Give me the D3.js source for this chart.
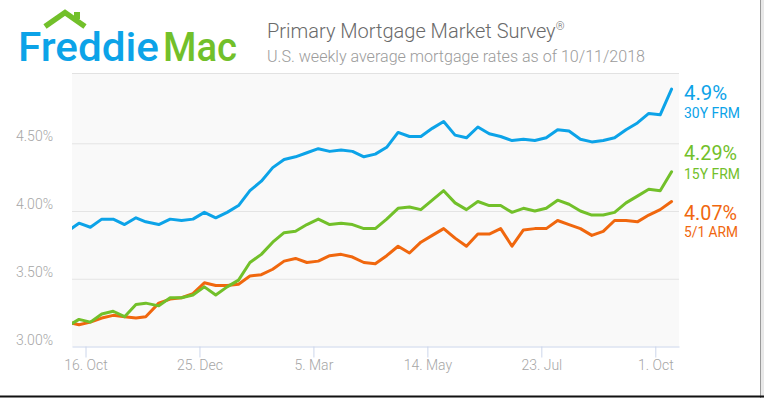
<!DOCTYPE html>
<html>
<head>
<meta charset="utf-8">
<script src="https://cdn.jsdelivr.net/npm/d3@7"></script>
<style>
  html, body { margin: 0; padding: 0; background: #fff; }
  svg { display: block; }
  text { font-family: Roboto, "Noto Sans", sans-serif; }
</style>
</head>
<body>
<svg id="chart" width="764" height="398"></svg>
<script>
// ---- data (Freddie Mac PMMS, weekly) ----
const weekDates = [
  "2017-10-05","2017-10-12","2017-10-19","2017-10-26",
  "2017-11-02","2017-11-09","2017-11-16","2017-11-22","2017-11-30",
  "2017-12-07","2017-12-14","2017-12-21","2017-12-28",
  "2018-01-04","2018-01-11","2018-01-18","2018-01-25",
  "2018-02-01","2018-02-08","2018-02-15","2018-02-22",
  "2018-03-01","2018-03-08","2018-03-15","2018-03-22","2018-03-29",
  "2018-04-05","2018-04-12","2018-04-19","2018-04-26",
  "2018-05-03","2018-05-10","2018-05-17","2018-05-24","2018-05-31",
  "2018-06-07","2018-06-14","2018-06-21","2018-06-28",
  "2018-07-05","2018-07-12","2018-07-19","2018-07-26",
  "2018-08-02","2018-08-09","2018-08-16","2018-08-23","2018-08-30",
  "2018-09-06","2018-09-13","2018-09-20","2018-09-27",
  "2018-10-04","2018-10-11"
];
const frm30 = [
  3.85,3.91,3.88,3.94,
  3.94,3.90,3.95,3.92,3.90,
  3.94,3.93,3.94,3.99,
  3.95,3.99,4.04,4.15,
  4.22,4.32,4.38,4.40,
  4.43,4.46,4.44,4.45,4.44,
  4.40,4.42,4.47,4.58,
  4.55,4.55,4.61,4.66,4.56,
  4.54,4.62,4.57,4.55,
  4.52,4.53,4.52,4.54,
  4.60,4.59,4.53,4.51,4.52,
  4.54,4.60,4.65,4.72,
  4.71,4.90
];
const frm15 = [
  3.15,3.20,3.18,3.24,
  3.26,3.22,3.31,3.32,3.30,
  3.36,3.36,3.38,3.44,
  3.38,3.44,3.49,3.62,
  3.68,3.77,3.84,3.85,
  3.90,3.94,3.90,3.91,3.90,
  3.87,3.87,3.94,4.02,
  4.03,4.01,4.08,4.15,4.06,
  4.01,4.07,4.04,4.04,
  3.99,4.02,4.00,4.02,
  4.08,4.05,4.00,3.97,3.97,
  3.99,4.06,4.11,4.16,
  4.15,4.29
];
const arm51 = [
  3.18,3.16,3.18,3.21,
  3.23,3.22,3.21,3.22,3.32,
  3.35,3.36,3.39,3.47,
  3.45,3.45,3.46,3.52,
  3.53,3.57,3.63,3.65,
  3.62,3.63,3.67,3.68,3.66,
  3.62,3.61,3.67,3.74,
  3.69,3.77,3.82,3.87,3.80,
  3.74,3.83,3.83,3.87,
  3.74,3.86,3.87,3.87,
  3.93,3.90,3.87,3.82,3.85,
  3.93,3.93,3.92,3.97,
  4.01,4.07
];
const seriesNames = ["30Y FRM", "15Y FRM", "5/1 ARM"];
const seriesLatest = ["4.9%", "4.29%", "4.07%"];
const xTickDates = ["2017-10-16","2017-12-25","2018-03-05","2018-05-14","2018-07-23","2018-10-01"];
const yTickValues = [3.0, 3.5, 4.0, 4.5];
const titleText = "Primary Mortgage Market Survey";
const subtitleText = "U.S. weekly average mortgage rates as of 10/11/2018";

// ---- styling ----
const colors = ["#0ca3e8", "#72c02a", "#f0670e"];
const plot = { left: 72, right: 679, top: 74, bottom: 346.5 };
const parse = d3.utcParse("%Y-%m-%d");
const months = ["Jan","Feb","Mar","Apr","May","Jun","Jul","Aug","Sep","Oct","Nov","Dec"];

const svg = d3.select("#chart");

// outer frame artifacts
svg.append("rect").attr("x", 761).attr("y", 0).attr("width", 3).attr("height", 398).attr("fill", "#e8e8e8");
svg.append("line").attr("x1", 760.5).attr("x2", 760.5).attr("y1", 0).attr("y2", 398).attr("stroke", "#9a9a9a");
svg.append("line").attr("x1", 0).attr("x2", 764).attr("y1", 396.5).attr("y2", 396.5).attr("stroke", "#111").attr("stroke-width", 2);

// ---- logo ----
const logo = svg.append("g");
logo.append("path")
  .attr("d", "M45,26.5 L65,12.5 L85,26.5")
  .attr("fill", "none").attr("stroke", "#72c02a").attr("stroke-width", 5.5).attr("stroke-linejoin", "miter");
logo.append("rect").attr("x", 74).attr("y", 12).attr("width", 6).attr("height", 7).attr("fill", "#72c02a");
logo.append("text").attr("x", 18).attr("y", 61)
  .attr("font-size", 41).attr("font-weight", 500).attr("fill", "#0ca3e8")
  .attr("textLength", 141).attr("lengthAdjust", "spacingAndGlyphs")
  .text("Freddie");
logo.append("text").attr("x", 163).attr("y", 61)
  .attr("font-size", 41).attr("font-weight", 500).attr("fill", "#72c02a")
  .attr("textLength", 74).attr("lengthAdjust", "spacingAndGlyphs")
  .text("Mac");

// ---- titles ----
const title = svg.append("text").attr("x", 267).attr("y", 37.5)
  .attr("font-size", 20).attr("font-weight", 300).attr("fill", "#6a6a6a");
title.append("tspan").text(titleText);
title.append("tspan").attr("font-size", 11).attr("dy", -8).text("®");
svg.append("text").attr("x", 267).attr("y", 62)
  .attr("font-size", 16).attr("font-weight", 300).attr("fill", "#9b9b9b")
  .attr("textLength", 378).attr("lengthAdjust", "spacingAndGlyphs")
  .text(subtitleText);

// ---- scales ----
const tickDates = xTickDates.map(parse);
const x = d3.scaleUtc().domain([tickDates[0], tickDates[tickDates.length - 1]]).range([85.5, 655.3]);
x.domain([x.invert(plot.left), x.invert(plot.right)]).range([plot.left, plot.right]);
const y = d3.scaleLinear().domain([3, 5]).range([plot.bottom, 75.5]);

// plot background
svg.append("rect").attr("x", plot.left).attr("y", plot.top)
  .attr("width", plot.right - plot.left).attr("height", plot.bottom - plot.top)
  .attr("fill", "#f9f9f9");
svg.append("line").attr("x1", plot.left).attr("x2", plot.right)
  .attr("y1", plot.top - 0.5).attr("y2", plot.top - 0.5).attr("stroke", "#e2e2e2");

// gridlines
const grid = svg.append("g").attr("transform", `translate(${plot.left},0)`)
  .call(d3.axisLeft(y).tickValues(yTickValues.filter(v => v > 3)).tickSize(-(plot.right - plot.left)).tickFormat(""));
grid.select(".domain").remove();
grid.selectAll(".tick line").attr("stroke", "#e4e4e4");

// y labels
const yAxis = svg.append("g").attr("transform", "translate(53,0)")
  .call(d3.axisLeft(y).tickValues(yTickValues).tickSize(0).tickPadding(0)
    .tickFormat(v => d3.format(".2f")(v) + "%"));
yAxis.select(".domain").remove();
yAxis.selectAll("text").attr("dy", -2.5).attr("fill", "#a6a6a6")
  .attr("font-size", 14).attr("font-weight", 300).attr("font-family", "Roboto, sans-serif");

// x axis
const xAxis = svg.append("g").attr("transform", `translate(0,${plot.bottom})`)
  .call(d3.axisBottom(x).tickValues(tickDates).tickSize(11).tickPadding(2.5).tickSizeOuter(0)
    .tickFormat(d => `${d.getUTCDate()}. ${months[d.getUTCMonth()]}`));
xAxis.select(".domain").attr("stroke", "#ccd6eb");
xAxis.selectAll(".tick line").attr("stroke", "#ccd6eb");
xAxis.selectAll("text").attr("fill", "#a6a6a6")
  .attr("font-size", 14).attr("font-weight", 300).attr("font-family", "Roboto, sans-serif");

// ---- lines ----
svg.append("clipPath").attr("id", "plotclip").append("rect")
  .attr("x", plot.left).attr("y", plot.top).attr("width", plot.right - plot.left).attr("height", plot.bottom - plot.top);

const dates = weekDates.map(parse);
const series = [frm30, frm15, arm51];
const line = d3.line().x(d => x(d[0])).y(d => y(d[1]));
const lines = svg.append("g").attr("clip-path", "url(#plotclip)");
series.slice().reverse().forEach((vals, ri) => {
  const i = series.length - 1 - ri;
  lines.append("path")
    .datum(dates.map((d, k) => [d, vals[k]]))
    .attr("d", line)
    .attr("fill", "none").attr("stroke", colors[i]).attr("stroke-width", 3)
    .attr("stroke-linejoin", "round").attr("stroke-linecap", "round");
});

// ---- right-side labels ----
const labelY = [[100, 117.5], [160, 178.5], [219.5, 237]];
const pctWidths = [43, 53, 53];
const nameWidths = [56, 56, 54];
series.forEach((vals, i) => {
  svg.append("text").attr("x", 684).attr("y", labelY[i][0])
    .attr("font-size", 19.5).attr("fill", colors[i])
    .attr("textLength", pctWidths[i]).attr("lengthAdjust", "spacingAndGlyphs")
    .text(seriesLatest[i]);
  svg.append("text").attr("x", 684).attr("y", labelY[i][1])
    .attr("font-size", 14).attr("fill", colors[i])
    .attr("textLength", nameWidths[i]).attr("lengthAdjust", "spacingAndGlyphs")
    .text(seriesNames[i]);
});
</script>
</body>
</html>
